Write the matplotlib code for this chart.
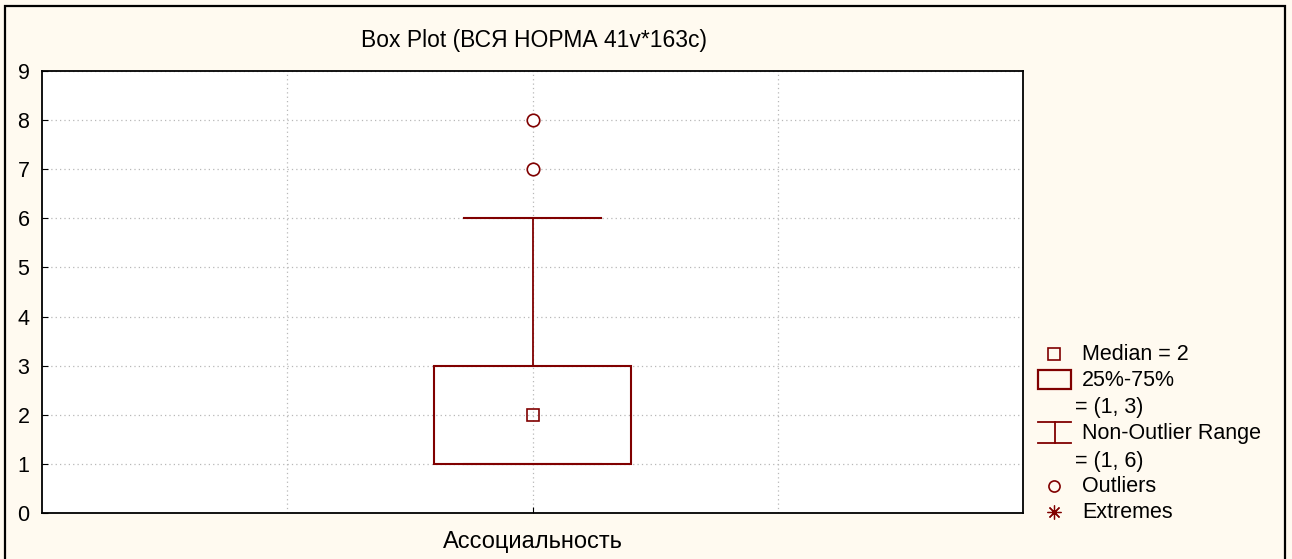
import matplotlib
matplotlib.use('Agg')
import matplotlib.pyplot as plt
from matplotlib.lines import Line2D
from matplotlib.patches import Rectangle

# summary statistics for the variable
category = 'Ассоциальность'
median = 2
q1, q3 = 1, 3
whisker_low, whisker_high = 1, 6
outliers = [7, 8]
extremes = []

dark_red = '#800000'
cream = '#fffaf0'

plt.rcParams['font.family'] = ['Liberation Sans', 'DejaVu Sans']
fs = 15.5

fig = plt.figure(figsize=(12.92, 5.59), dpi=100, facecolor=cream)
ax = fig.add_axes([42 / 1292, 1 - 513 / 559, (1023 - 42) / 1292, (513 - 71) / 559])
ax.set_facecolor('white')

x = 1
box_w = 0.4
cap_w = 0.28

# whiskers and caps
ax.plot([x, x], [q3, whisker_high], color=dark_red, lw=1.3, zorder=3)
ax.plot([x, x], [whisker_low, q1], color=dark_red, lw=1.3, zorder=3)
ax.plot([x - cap_w / 2, x + cap_w / 2], [whisker_high] * 2, color=dark_red, lw=1.5, zorder=3)
ax.plot([x - cap_w / 2, x + cap_w / 2], [whisker_low] * 2, color=dark_red, lw=1.5, alpha=0.6, zorder=3)

# box
ax.add_patch(Rectangle((x - box_w / 2, q1), box_w, q3 - q1, fill=False,
                       edgecolor=dark_red, lw=1.5, zorder=4))
ax.plot([x], [median], marker='s', ms=8, mfc='none', mec=dark_red, mew=1.2, zorder=5)
ax.plot([x] * len(outliers), outliers, ls='none', marker='o', ms=9,
        mfc='white', mec=dark_red, mew=1.2, zorder=5)
if extremes:
    ax.plot([x] * len(extremes), extremes, ls='none', marker=(8, 2, 0), ms=9,
            mec=dark_red, mew=0.9, zorder=5)

ax.set_xlim(0, 2)
ax.set_ylim(0, 9)
ax.set_xticks([x])
ax.set_xticklabels([category], fontsize=fs + 1.5)
ax.set_xticks([0.5, 1.5], minor=True)
ax.set_yticks(range(10))
ax.tick_params(axis='y', labelsize=fs, direction='in', length=4, pad=9)
ax.tick_params(axis='x', which='major', direction='in', length=4, pad=13)
ax.tick_params(axis='x', which='minor', length=0)
ax.grid(True, which='both', color='#b8b8b8', ls=(0, (1, 2.5)), lw=0.9)
ax.set_axisbelow(True)
for sp in ax.spines.values():
    sp.set_linewidth(1.3)

fig.text(534 / 1292, 1 - 40 / 559, 'Box Plot (ВСЯ НОРМА 41v*163c)', ha='center',
         va='center', fontsize=fs + 1)

# outer frame
fig.add_artist(Rectangle((5 / 1292, -0.05), (1285 - 5) / 1292, 1 - 6 / 559 + 0.05,
                         transform=fig.transFigure, fill=False, edgecolor='black', lw=1.6))


def fx(px):
    return px / 1292


def fy(py):
    return 1 - py / 559


# legend
tx = 1082
fig.add_artist(Line2D([fx(1054)], [fy(354)], marker='s', ms=8, mfc='none',
                      mec=dark_red, mew=1.2, transform=fig.transFigure))
fig.text(fx(tx), fy(354), 'Median = 2', va='center', fontsize=fs)
fig.add_artist(Rectangle((fx(1038), fy(389)), fx(1071) - fx(1038), fy(370) - fy(389),
                         transform=fig.transFigure, fill=False, edgecolor=dark_red, lw=1.6))
fig.text(fx(tx), fy(380), '25%-75%', va='center', fontsize=fs)
fig.text(fx(1075), fy(407), '= (1, 3)', va='center', fontsize=fs)
for py in (422, 443):
    fig.add_artist(Line2D([fx(1038), fx(1071)], [fy(py)] * 2, color=dark_red, lw=1.3,
                          transform=fig.transFigure))
fig.add_artist(Line2D([fx(1055), fx(1055)], [fy(422), fy(443)], color=dark_red, lw=1.3,
                      transform=fig.transFigure))
fig.text(fx(tx), fy(434), 'Non-Outlier Range', va='center', fontsize=fs)
fig.text(fx(1075), fy(461), '= (1, 6)', va='center', fontsize=fs)
fig.add_artist(Line2D([fx(1054)], [fy(486)], marker='o', ms=8, mfc='none',
                      mec=dark_red, mew=1.2, transform=fig.transFigure))
fig.text(fx(tx), fy(486), 'Outliers', va='center', fontsize=fs)
fig.add_artist(Line2D([fx(1054)], [fy(512)], marker=(8, 2, 0), ms=10, mfc='none',
                      mec=dark_red, mew=0.9, transform=fig.transFigure))
fig.text(fx(tx), fy(512), 'Extremes', va='center', fontsize=fs)

fig.savefig('out.png', dpi=100, facecolor=cream)
